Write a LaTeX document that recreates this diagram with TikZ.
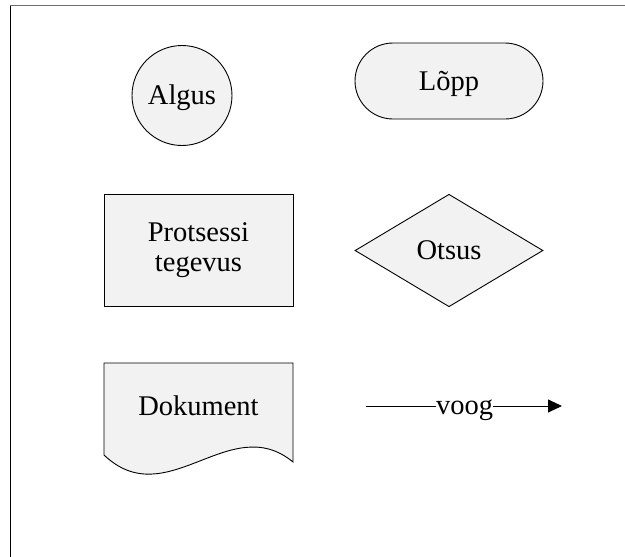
\documentclass[tikz,border=0pt]{standalone}
\usepackage{fontspec}
\setmainfont{Liberation Serif}
\usetikzlibrary{shapes.geometric,shapes.misc,arrows.meta}
\definecolor{shapefill}{HTML}{F2F2F2}
\definecolor{framegray}{HTML}{6E6E6E}
\tikzset{
  labelfont/.style={font=\fontsize{28.5}{30}\selectfont},
  sym/.style={draw=black, fill=shapefill, line width=0.9pt, align=center,
    labelfont, inner sep=0pt},
  flowline/.style={draw=black, line width=0.9pt},
}
\begin{document}
\begin{tikzpicture}[x=1pt,y=-1pt]
  \useasboundingbox (0,0) rectangle (625,557);
  % frame edges
  \draw[framegray, line width=1.5pt] (10,5.5) -- (625,5.5);
  \draw[black, line width=1pt] (10.3,5.5) -- (10.3,557);

  % start / end
  \node[sym, circle, minimum size=100pt, text height=20pt, text depth=3pt] (algus) at (182,95.5) {Algus};
  \node[sym, rounded rectangle, minimum width=188pt, minimum height=76pt, text height=20pt, text depth=2pt] (lopp) at (449,81) {Lõpp};

  % process / decision
  \node[sym, rectangle, minimum width=189pt, minimum height=112.5pt] (protsess) at (198.5,250.5) {Protsessi\\tegevus};
  \node[sym, diamond, minimum width=188pt, minimum height=112.5pt] (otsus) at (449,250.5) {Otsus};

  % document shape with wavy bottom
  \draw[draw=black, fill=shapefill, line width=0.9pt]
    (104,363) -- (293,363) -- (293,462)
    .. controls (230,410) and (167,515) .. (104,455) -- cycle;
  \node[labelfont, inner sep=0pt, anchor=base] (dokument) at (198.5,415) {Dokument};

  % flow connector
  \coordinate (voogstart) at (366,406);
  \coordinate (voogend) at (562,406);
  \node[labelfont, inner sep=0pt, anchor=base] (voog) at (464.5,414) {voog};
  \draw[flowline] (voogstart) -- (voog.west |- voogstart);
  \draw[flowline, -{Triangle[length=14pt,width=13pt]}] (voog.east |- voogend) -- (voogend);
\end{tikzpicture}
\end{document}
